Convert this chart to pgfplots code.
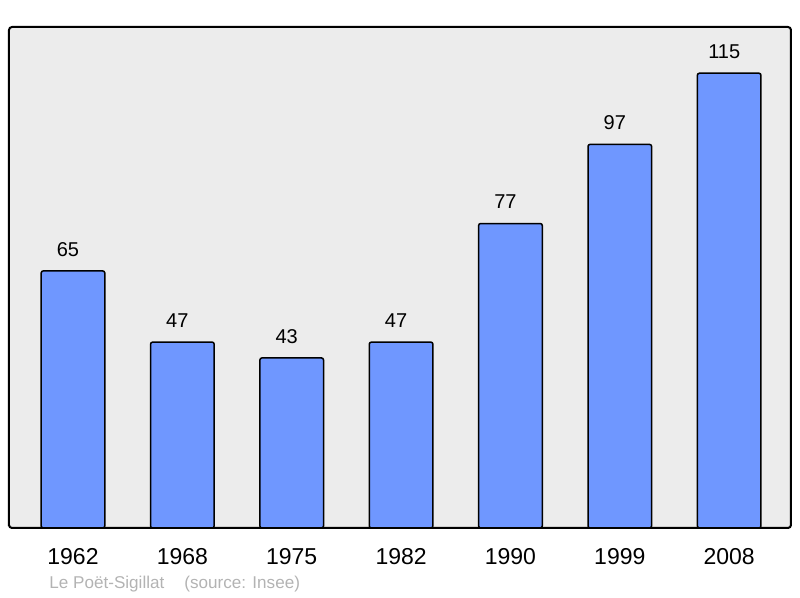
\documentclass[border=0pt]{standalone}
\usepackage{fontspec}
\setmainfont{Liberation Sans}
\usepackage{pgfplots}
\pgfplotsset{compat=1.18}
\definecolor{bgc}{HTML}{ECECEC}
\definecolor{barc}{HTML}{6F97FF}
\definecolor{srcc}{HTML}{B3B3B3}
\begin{document}
\begin{tikzpicture}[x=1pt,y=1pt]
\path[use as bounding box] (0,0) rectangle (400,299);
\begin{axis}[
  at={(4.5pt,35pt)}, anchor=south west,
  scale only axis, width=391pt, height=250.5pt,
  xmin=-0.585, xmax=6.565, ymin=0, ymax=126.7,
  axis background/.style={fill=bgc},
  axis line style={line width=1pt, black, rounded corners=1.5pt},
  ytick=\empty,
  xtick=data,
  xticklabels={1962,1968,1975,1982,1990,1999,2008},
  major tick length=0pt,
  xticklabel style={font=\fontsize{11.5}{13}\selectfont, anchor=base, yshift=-18.5pt},
  /pgf/number format/assume math mode=true,
  ybar, bar width=31.8pt,
  nodes near coords,
  nodes near coords style={font=\fontsize{10}{12}\selectfont, anchor=base, yshift=7.3pt, xshift=-2.5pt, text=black},
  clip=false,
]
\addplot[fill=barc, draw=black, line width=0.75pt, rounded corners=1pt] coordinates {
 (0,65) (1,47) (2,43) (3,47) (4,77) (5,97) (6,115)};
\end{axis}
\node[anchor=base west, inner sep=0pt, text=srcc, font=\fontsize{8.55}{10}\selectfont] at (24.5,4.5) {Le Poët-Sigillat\hspace{10pt}(source: Insee)};
\end{tikzpicture}
\end{document}
